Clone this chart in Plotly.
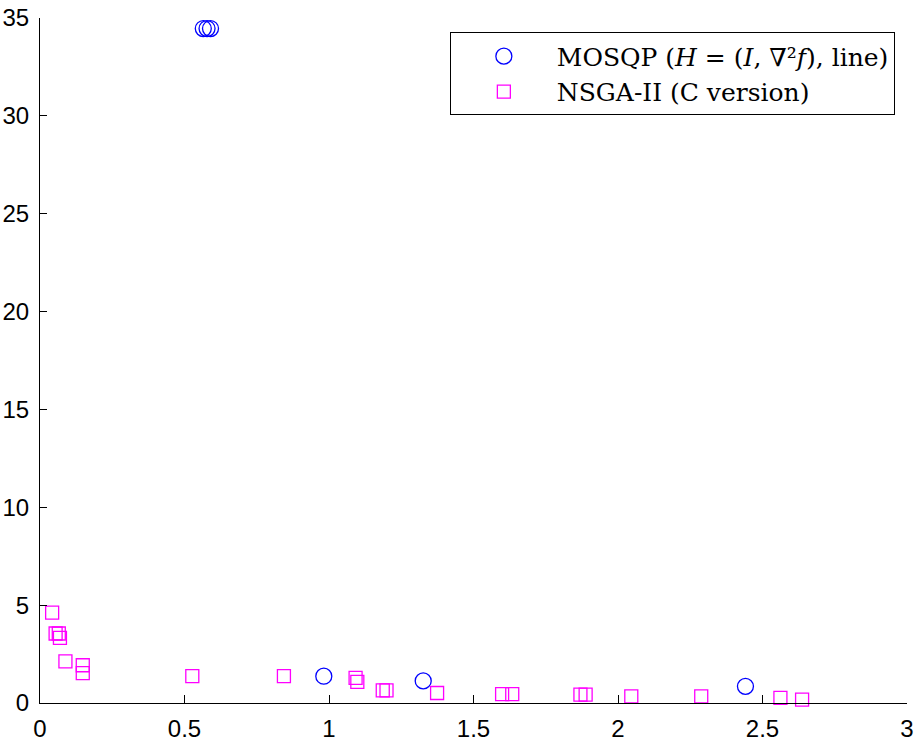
import plotly.graph_objects as go

# MOSQP (H = (I, ∇²f), line) results
mosqp_x = [0.565, 0.578, 0.590, 0.982, 1.326, 2.441]
mosqp_y = [34.46, 34.46, 34.46, 1.37, 1.13, 0.85]

# NSGA-II (C version) results
nsga_x = [0.042, 0.054, 0.065, 0.069, 0.088, 0.148, 0.148, 0.527, 0.844,
          1.092, 1.098, 1.186, 1.199, 1.374, 1.599, 1.634, 1.870, 1.888,
          2.046, 2.288, 2.562, 2.637]
nsga_y = [4.62, 3.55, 3.55, 3.33, 2.13, 1.93, 1.53, 1.37, 1.37,
          1.28, 1.08, 0.65, 0.65, 0.51, 0.45, 0.45, 0.43, 0.43,
          0.34, 0.34, 0.26, 0.17]

x_ticks = [0, 0.5, 1, 1.5, 2, 2.5, 3]
x_tick_labels = ["0", "0.5", "1", "1.5", "2", "2.5", "3"]
y_ticks = [0, 5, 10, 15, 20, 25, 30, 35]
y_tick_labels = ["0", "5", "10", "15", "20", "25", "30", "35"]

fig = go.Figure()
fig.add_trace(go.Scatter(
    x=mosqp_x, y=mosqp_y, mode="markers",
    name="MOSQP (<i>H</i> = (<i>I</i>, ∇²<i>f</i>), line)",
    marker=dict(symbol="circle-open", size=16, color="#0000ff",
                line=dict(width=1.3, color="#0000ff")),
    cliponaxis=False,
))
fig.add_trace(go.Scatter(
    x=nsga_x, y=nsga_y, mode="markers",
    name="NSGA-II (C version)",
    marker=dict(symbol="square-open", size=13, color="#ff00ff",
                line=dict(width=1.3, color="#ff00ff")),
    cliponaxis=False,
))

axis_font = dict(family="Liberation Sans, Arial, sans-serif", size=24, color="black")
fig.update_layout(
    width=921, height=742,
    margin=dict(l=40, r=14, t=18, b=39),
    plot_bgcolor="white", paper_bgcolor="white",
    showlegend=True,
    legend=dict(
        x=0.986, y=0.979, xanchor="right", yanchor="top",
        bordercolor="black", borderwidth=1, bgcolor="white",
        font=dict(family="DejaVu Serif, serif", size=25, color="black"),
        itemwidth=96,
        tracegroupgap=0,
    ),
    xaxis=dict(
        range=[0, 3], tickmode="array", tickvals=x_ticks, ticktext=x_tick_labels,
        showgrid=False, zeroline=False, showline=True, linecolor="black", linewidth=1,
        ticks="inside", ticklen=8, tickcolor="black", tickfont=axis_font,
        mirror=False, automargin=False, ticklabelstandoff=4,
    ),
    yaxis=dict(
        range=[0, 35], tickmode="array", tickvals=y_ticks, ticktext=y_tick_labels,
        showgrid=False, zeroline=False, showline=True, linecolor="black", linewidth=1,
        ticks="inside", ticklen=7, tickcolor="black", tickfont=axis_font,
        mirror=False, automargin=False, ticklabelstandoff=5,
    ),
)

fig.write_html("out.html", config={"displayModeBar": False},
               post_script="document.body.style.margin='0';")
